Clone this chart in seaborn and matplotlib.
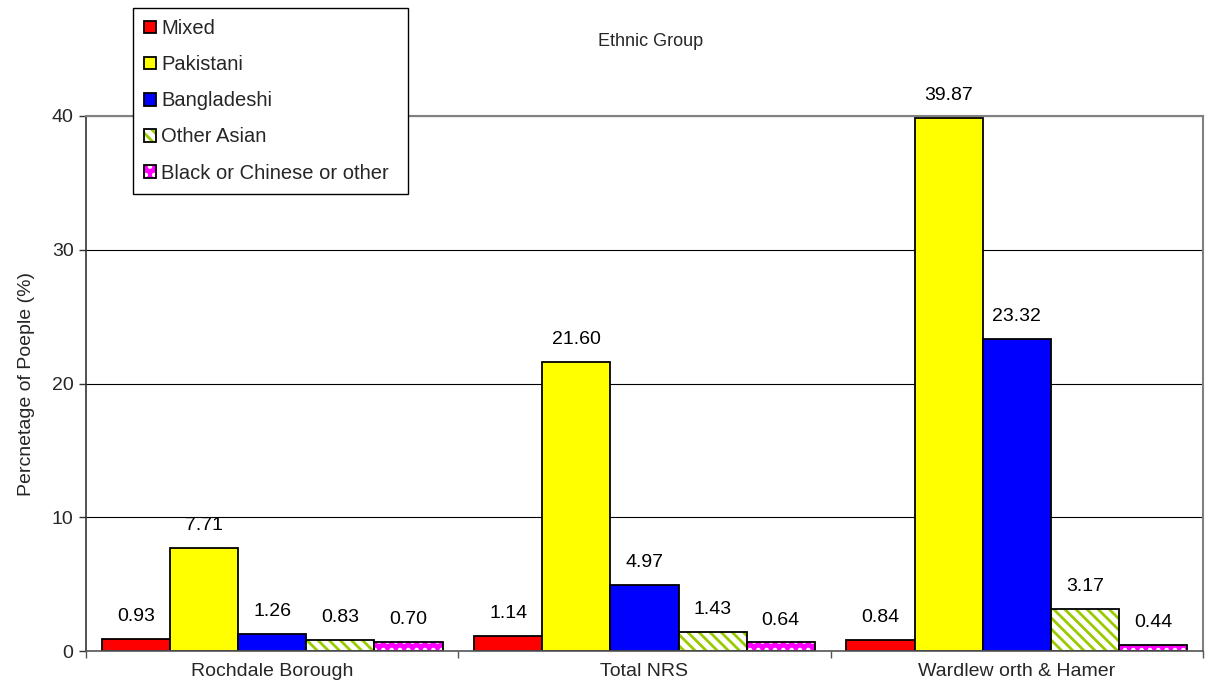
import matplotlib
matplotlib.use("Agg")
import matplotlib.pyplot as plt
from matplotlib.patches import Patch, Rectangle
from matplotlib.legend_handler import HandlerTuple
import seaborn as sns
import pandas as pd

# ---- data ----
areas = ["Rochdale Borough", "Total NRS", "Wardlew orth & Hamer"]
groups = ["Mixed", "Pakistani", "Bangladeshi", "Other Asian", "Black or Chinese or other"]
mixed = [0.93, 1.14, 0.84]
pakistani = [7.71, 21.60, 39.87]
bangladeshi = [1.26, 4.97, 23.32]
other_asian = [0.83, 1.43, 3.17]
black_chinese_other = [0.70, 0.64, 0.44]
yticks = [0, 10, 20, 30, 40]

series = [mixed, pakistani, bangladeshi, other_asian, black_chinese_other]
rows = []
for g, vals in zip(groups, series):
    for a, v in zip(areas, vals):
        rows.append({"Area": a, "Group": g, "Value": v})
df = pd.DataFrame(rows)

# ---- styles ----
face = ["#FF0000", "#FFFF00", "#0000FF", "#FFFFFF", "#FF00FF"]
hatch = [None, None, None, "\\\\\\", ".."]
hatch_col = [None, None, None, "#99CC00", "#FFFFFF"]

sns.set_theme(style="white")
plt.rcParams["font.family"] = ["Liberation Sans", "DejaVu Sans"]
plt.rcParams["hatch.linewidth"] = 2.0

fig = plt.figure(figsize=(12.07, 6.93), dpi=100)
ax = fig.add_axes([86 / 1207, 1 - 651 / 693, (1203 - 86) / 1207, (651 - 116) / 693])

sns.barplot(data=df, x="Area", y="Value", hue="Group", hue_order=groups, order=areas,
            palette=face, width=0.915, gap=0, ax=ax, legend=False,
            edgecolor="black", linewidth=1.3, saturation=1, errorbar=None)

for i, cont in enumerate(ax.containers):
    for p in cont:
        if hatch[i]:
            p.set_hatch(hatch[i])
            p.set_edgecolor(hatch_col[i])
            p.set_linewidth(0)
            ax.add_patch(Rectangle(p.get_xy(), p.get_width(), p.get_height(),
                                   fill=False, edgecolor="black", linewidth=1.3, zorder=p.get_zorder() + 0.1))
    ax.bar_label(cont, fmt="%.2f", padding=10, fontsize=14, color="black")

ax.set_ylim(0, 40)
ax.set_xlim(-0.5, 2.5)
ax.set_yticks(yticks)
ax.set_yticklabels([str(t) for t in yticks], fontsize=14)
ax.yaxis.grid(True, color="black", linewidth=0.8)
ax.set_axisbelow(True)
ax.tick_params(axis="y", which="major", left=True, length=5, width=1, color="#333333", pad=4)
ax.set_xticks(range(len(areas)))
ax.set_xticklabels(areas, fontsize=14)
ax.set_xticks([-0.5, 0.5, 1.5, 2.5], minor=True)
ax.tick_params(axis="x", which="major", bottom=False, length=0, pad=9)
ax.tick_params(axis="x", which="minor", bottom=True, length=5, width=1, color="#555555")
ax.set_xlabel("")
ax.set_ylabel("Percnetage of Poeple (%)", fontsize=14, labelpad=12)

for s in ["top", "right"]:
    ax.spines[s].set_visible(True)
    ax.spines[s].set_color("#808080")
    ax.spines[s].set_linewidth(1.5)
ax.spines["left"].set_color("#333333")
ax.spines["left"].set_linewidth(1.2)
ax.spines["bottom"].set_color("#555555")
ax.spines["bottom"].set_linewidth(1.2)

fig.text(651 / 1207, 1 - 42 / 693, "Ethnic Group", ha="center", va="center", fontsize=13)

handles = []
for i, g in enumerate(groups):
    if hatch[i]:
        handles.append((Patch(facecolor=face[i], edgecolor=hatch_col[i], hatch=hatch[i], linewidth=0),
                        Patch(facecolor="none", edgecolor="black", linewidth=1.3)))
    else:
        handles.append(Patch(facecolor=face[i], edgecolor="black", linewidth=1.3))

leg = ax.legend(handles=handles, labels=groups, loc="upper left", mode="expand",
                bbox_to_anchor=(133 / 1207, 1 - 200 / 693, 275 / 1207, 192 / 693),
                bbox_transform=fig.transFigure, fontsize=14.5, frameon=True, fancybox=False,
                edgecolor="black", framealpha=1, labelspacing=0.85, handlelength=0.6,
                handleheight=0.6, handletextpad=0.25, borderpad=0.55, borderaxespad=0,
                handler_map={tuple: HandlerTuple(ndivide=1)})
leg.get_frame().set_linewidth(1.0)
leg.set_zorder(10)

fig.savefig("out.png", dpi=100)
